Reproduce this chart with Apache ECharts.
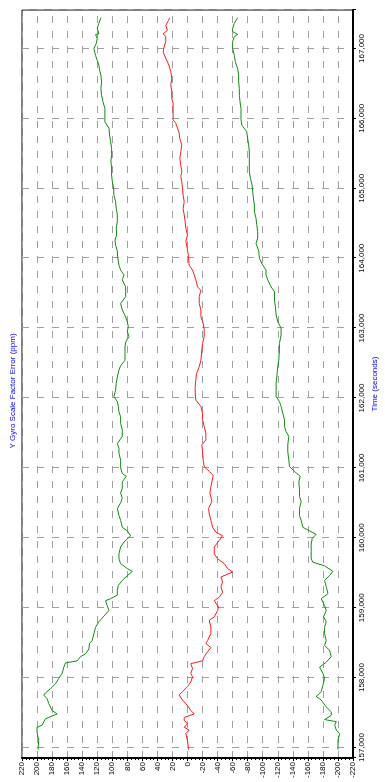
<!DOCTYPE html>
<html>
<head>
<meta charset="utf-8">
<script src="https://cdn.jsdelivr.net/npm/echarts@6/dist/echarts.min.js"></script>
<style>
  html, body { margin: 0; padding: 0; background: #fff; overflow: hidden; }
  /* chart is laid out landscape, then turned a quarter left to stand upright */
  #chart { position: absolute; left: 0; top: 0; width: 782px; height: 385px; transform-origin: 0 0; transform: translate(0, 782px) rotate(-90deg); }
</style>
</head>
<body>
<div id="chart"></div>
<script>
const titleText = 'Y Gyro Scale Factor Error (ppm)'
const timeName = 'Time (seconds)'

// [time (s), error (ppm)]
const upperGreen = [
  [156970, 198.7], [157100, 197.8], [157220, 200], [157290, 200], [157320, 193.3], [157410, 188.9], [157480, 173.3], [157530, 180],
  [157630, 184.4], [157700, 186.7], [157750, 191.1], [157780, 188.9], [157840, 182.2], [157910, 175.6], [157990, 171.1], [158060, 166.7],
  [158150, 164.4], [158210, 162.2], [158240, 146.7], [158300, 142.2], [158340, 135.6], [158410, 131.1], [158490, 130.2], [158530, 126.7],
  [158630, 124.4], [158720, 122.2], [158800, 117.8], [158880, 111.1], [158960, 104.4], [159030, 106.7], [159100, 108.9], [159130, 102.2],
  [159180, 93.3], [159250, 93.3], [159320, 92], [159390, 86.7], [159460, 80], [159520, 73.3], [159560, 80], [159630, 88.9],
  [159700, 91.1], [159770, 91.1], [159870, 88.9], [159940, 84.4], [160030, 75.6], [160100, 80], [160150, 86.7], [160250, 88.9],
  [160320, 91.1], [160420, 93.3], [160500, 88.9], [160570, 86.7], [160640, 88.9], [160710, 86.7], [160800, 86.7], [160880, 81.3],
  [160920, 86.7], [161000, 88.9], [161110, 88.9], [161210, 91.1], [161280, 91.1], [161350, 93.3], [161450, 86.7], [161540, 86.7],
  [161640, 88.9], [161730, 88.9], [161800, 91.1], [161880, 92], [161950, 93.3], [162020, 97.8], [162110, 95.6], [162210, 94.7],
  [162300, 93.3], [162400, 91.1], [162460, 88.9], [162540, 83.1], [162640, 83.1], [162730, 83.1], [162800, 82.2], [162880, 77.8],
  [162950, 80], [163020, 78.7], [163090, 80], [163160, 82.2], [163260, 86.7], [163350, 88.9], [163450, 82.2], [163520, 82.2],
  [163590, 82.2], [163690, 86.7], [163760, 84.4], [163830, 88.9], [163900, 91.1], [163960, 92], [164020, 92.9], [164100, 93.3],
  [164190, 95.6], [164260, 96.4], [164330, 94.2], [164430, 94.7], [164520, 93.3], [164620, 93.3], [164710, 94.7], [164810, 95.6],
  [164900, 97.8], [165000, 98.2], [165100, 100], [165190, 100.9], [165290, 100.9], [165380, 101.8], [165480, 100.9], [165570, 100.9],
  [165670, 102.2], [165760, 103.6], [165860, 104.4], [165950, 109.8], [166050, 109.8], [166140, 109.8], [166240, 112.4], [166330, 114.2],
  [166430, 115.1], [166520, 114.2], [166620, 115.1], [166690, 116.9], [166760, 117.8], [166830, 120], [166900, 122.2], [167000, 124.4],
  [167070, 121.3], [167140, 120], [167200, 122.2], [167210, 117.8], [167290, 120], [167360, 117.8], [167440, 115.1]
]

const middleRed = [
  [156970, -1.3], [157100, 0], [157200, 2.2], [157250, -2.2], [157290, 4.4], [157340, 0], [157390, 4.4], [157430, 4.4],
  [157480, -8.9], [157530, -4.4], [157600, 0], [157680, 6.7], [157750, 11.1], [157800, 6.7], [157870, 0], [157940, -4.4],
  [158010, -6.7], [158060, -4.4], [158130, -6.7], [158200, -4.4], [158240, -20], [158300, -22.2], [158370, -26.7], [158430, -31.1],
  [158490, -24.4], [158530, -26.7], [158630, -31.1], [158720, -31.1], [158820, -28.9], [158870, -35.6], [158960, -40], [159010, -41.3],
  [159100, -35.6], [159150, -42.2], [159220, -46.7], [159300, -44.4], [159370, -46.7], [159440, -44.4], [159510, -60], [159560, -53.3],
  [159630, -48.9], [159700, -40], [159770, -35.6], [159870, -35.6], [159960, -42.2], [160030, -46.7], [160080, -37.8], [160150, -33.3],
  [160250, -31.1], [160340, -28.9], [160420, -28], [160520, -32.4], [160640, -29.8], [160730, -31.1], [160800, -32.4], [160890, -34.2],
  [160950, -28.9], [161020, -22.2], [161110, -20.9], [161230, -20], [161330, -19.1], [161400, -24.4], [161500, -24.4], [161590, -22.2],
  [161690, -20], [161780, -20], [161880, -17.8], [161970, -11.1], [162070, -10.2], [162160, -10.2], [162260, -11.1], [162350, -12],
  [162450, -15.6], [162540, -17.8], [162690, -19.1], [162780, -20], [162880, -22.2], [162970, -22.2], [163070, -20.9], [163160, -17.8],
  [163260, -17.8], [163350, -15.6], [163450, -15.6], [163540, -17.8], [163590, -13.3], [163690, -11.1], [163760, -8.9], [163830, -6.7],
  [163900, -2.2], [164020, -1.3], [164120, 0], [164240, 2.2], [164330, 0], [164430, 2.2], [164520, 3.1], [164620, 4.4],
  [164710, 5.8], [164810, 4.4], [164900, 5.8], [165000, 6.7], [165100, 7.6], [165170, 8.9], [165240, 7.6], [165330, 8.9],
  [165430, 10.2], [165520, 8.9], [165620, 7.6], [165710, 10.2], [165790, 11.1], [165860, 13.3], [165930, 15.6], [165980, 19.1],
  [166050, 19.1], [166140, 19.1], [166210, 19.1], [166290, 20.9], [166380, 20.9], [166480, 22.2], [166570, 20.9], [166670, 22.2],
  [166760, 24.7], [166860, 28.9], [166950, 32.4], [167020, 31.1], [167100, 28.9], [167170, 28.9], [167210, 32.4], [167260, 26.7],
  [167330, 28.9], [167400, 25.3], [167440, 23.6]
]

const lowerGreen = [
  [156970, -200], [157100, -200], [157200, -202.2], [157250, -197.8], [157320, -195.6], [157370, -197.8], [157400, -182.2], [157460, -191.1],
  [157510, -191.1], [157580, -184.4], [157680, -177.8], [157730, -171.1], [157800, -177.8], [157890, -180], [157990, -182.2], [158060, -180],
  [158150, -175.6], [158220, -184.4], [158300, -191.1], [158390, -188.9], [158460, -182.2], [158530, -184.4], [158630, -182.2], [158720, -182.2],
  [158800, -184.4], [158870, -180.9], [158960, -184.4], [159030, -182.2], [159130, -177.8], [159200, -186.7], [159300, -184.4], [159390, -182.2],
  [159460, -188.9], [159520, -193.3], [159600, -182.2], [159650, -166.7], [159700, -164.4], [159800, -164.4], [159910, -164.4], [159990, -165.8],
  [160050, -171.1], [160100, -162.2], [160150, -153.3], [160250, -151.1], [160320, -148.9], [160420, -148.9], [160520, -151.1], [160590, -148.9],
  [160690, -148.9], [160800, -148], [160880, -149.8], [160950, -142.2], [161020, -135.6], [161110, -134.7], [161230, -133.3], [161330, -133.3],
  [161450, -134.7], [161520, -131.1], [161590, -128.9], [161690, -128.9], [161780, -126.7], [161880, -124.4], [161950, -122.2], [162020, -117.8],
  [162110, -117.8], [162210, -117.8], [162300, -118.7], [162450, -120], [162540, -121.3], [162690, -122.2], [162780, -122.2], [162900, -124.4],
  [163000, -124.4], [163090, -120], [163190, -117.8], [163300, -116.9], [163400, -115.6], [163520, -115.6], [163590, -111.1], [163690, -106.7],
  [163760, -104.4], [163830, -104.4], [163900, -100], [164000, -95.6], [164100, -94.7], [164210, -91.1], [164290, -93.3], [164380, -93.3],
  [164480, -92], [164570, -91.1], [164670, -88.9], [164760, -88.9], [164860, -87.6], [164950, -86.7], [165050, -85.8], [165140, -83.6],
  [165240, -82.2], [165330, -82.2], [165430, -82.2], [165520, -82.2], [165620, -81.3], [165710, -80], [165810, -78.7], [165900, -72.4],
  [165980, -71.1], [166050, -71.1], [166140, -71.1], [166240, -69.8], [166330, -68.9], [166430, -68.9], [166520, -68], [166620, -68],
  [166710, -66.7], [166810, -63.6], [166900, -62.2], [167000, -60], [167100, -60], [167170, -62.2], [167200, -66.7], [167240, -60],
  [167290, -60], [167360, -62.2], [167440, -66.7]
]

const font = '"Liberation Sans", Arial, sans-serif'
const dashGrid = { show: true, lineStyle: { color: '#a0a0a0', width: 1, type: [7, 8] } }
const trace = (data, color) => ({ type: 'line', data, symbol: 'none', showSymbol: false, lineStyle: { color, width: 1 }, animation: false })

const chart = echarts.init(document.getElementById('chart'))
chart.setOption({
  animation: false,
  backgroundColor: '#fff',
  title: {
    text: titleText, left: 'center', top: 9, padding: 0,
    textStyle: { fontSize: 8, fontWeight: 'normal', color: '#0000ff', fontFamily: font },
  },
  grid: { left: 24, right: 10, top: 22, bottom: 32, show: true, borderColor: '#000', borderWidth: 1, containLabel: false, outerBoundsMode: 'none' },
  xAxis: {
    type: 'value', min: 156850, max: 167550, splitNumber: 11,
    name: timeName, nameLocation: 'middle', nameGap: 16,
    nameTextStyle: { fontSize: 8, color: '#0000ff', fontFamily: font },
    axisLine: { onZero: false, lineStyle: { color: '#000', width: 2 } },
    axisTick: { show: true, length: 3, lineStyle: { color: '#000' } },
    axisLabel: { margin: 5, fontSize: 8, color: '#000', fontFamily: font, formatter: v => (v % 1000 === 0 ? v.toLocaleString('en-US') : '') },
    splitLine: dashGrid,
  },
  yAxis: {
    type: 'value', min: -220, max: 220, interval: 20,
    axisLine: { onZero: false, lineStyle: { color: '#000', width: 2 } },
    axisTick: { show: true, length: 3, lineStyle: { color: '#000' } },
    minorTick: { show: true, splitNumber: 4, length: 2, lineStyle: { color: '#000' } },
    axisLabel: { margin: 4, fontSize: 8, color: '#000', fontFamily: font },
    splitLine: dashGrid,
  },
  series: [
    trace(upperGreen, '#128c12'),
    trace(middleRed, '#ff1a1a'),
    trace(lowerGreen, '#128c12'),
  ],
})
</script>
</body>
</html>
